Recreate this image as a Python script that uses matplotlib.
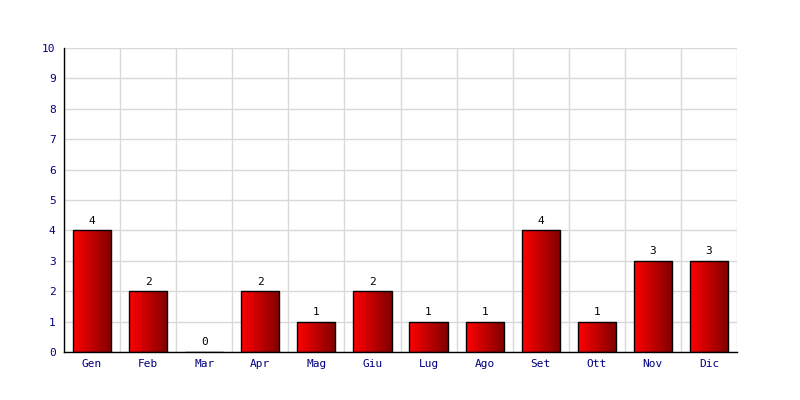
import matplotlib
matplotlib.use("Agg")
import matplotlib.pyplot as plt
import numpy as np

months = ["Gen", "Feb", "Mar", "Apr", "Mag", "Giu", "Lug", "Ago", "Set", "Ott", "Nov", "Dic"]
values = [4, 2, 0, 2, 1, 2, 1, 1, 4, 1, 3, 3]
yticks = list(range(0, 11))

fig = plt.figure(figsize=(8, 4), dpi=100)
ax = fig.add_axes([64/800, 48/400, 673/800, 304/400])

x = np.arange(len(months))
bars = ax.bar(x, values, width=0.68, color="none", edgecolor="black", linewidth=1.0, zorder=3)

grad = np.linspace(0, 1, 256).reshape(1, -1)
from matplotlib.colors import LinearSegmentedColormap
cmap = LinearSegmentedColormap.from_list("rg", ["#ff0000", "#800000"])
for b in bars:
    if b.get_height() <= 0:
        continue
    x0, w, h = b.get_x(), b.get_width(), b.get_height()
    im = ax.imshow(grad, cmap=cmap, aspect="auto", extent=[x0, x0 + w, 0, h],
                   zorder=2, interpolation="bicubic")
    im.set_clip_path(b)

for xi, v in zip(x, values):
    ax.text(xi, v + 0.15, str(v), ha="center", va="bottom", fontsize=8,
            family="DejaVu Sans Mono", color="black", zorder=4)

ax.set_xlim(-0.5, len(months) - 0.5)
ax.set_ylim(0, 10)
ax.set_yticks(yticks)
ax.set_yticklabels([str(t) for t in yticks], family="DejaVu Sans Mono", fontsize=8, color="#000080")
ax.set_xticks(x)
ax.set_xticklabels(months, family="DejaVu Sans Mono", fontsize=8, color="#000080")
ax.set_xticks(np.arange(-0.5, len(months) + 0.5, 1), minor=True)
ax.tick_params(axis="both", which="both", length=0)
ax.tick_params(axis="y", pad=6)
ax.tick_params(axis="x", pad=5)
ax.grid(True, which="minor", axis="x", color="#d9d9d9", linewidth=1, zorder=0)
ax.grid(True, which="major", axis="y", color="#d9d9d9", linewidth=1, zorder=0)
ax.grid(False, which="major", axis="x")
for s in ["top", "right"]:
    ax.spines[s].set_visible(False)
ax.spines["left"].set_linewidth(1)
ax.spines["bottom"].set_linewidth(1)
ax.set_axisbelow(True)

fig.savefig("out.png", dpi=100)
